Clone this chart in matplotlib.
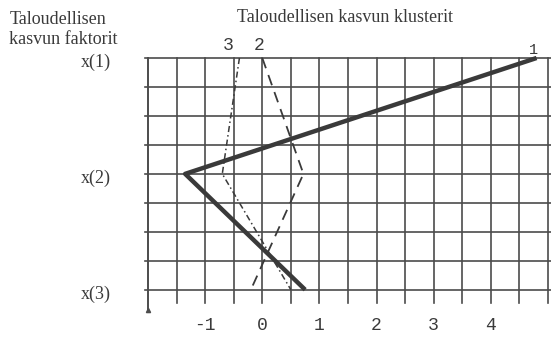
import matplotlib
matplotlib.use("Agg")
import matplotlib.pyplot as plt
import numpy as np

# factor rows (top to bottom) and cluster profiles
factors = ['x(1)', 'x(2)', 'x(3)']
factor_pos = [8, 4, 0]
cluster1 = [4.8, -1.35, 0.75]
cluster2 = [0.0, 0.72, -0.2]
cluster3 = [-0.4, -0.7, 0.5]
xtick_vals = [-1, 0, 1, 2, 3, 4]

ink = '#3a3a3a'
grid_c = '#4c4c4c'
serif = ['Liberation Serif', 'DejaVu Serif']
mono = ['Liberation Mono', 'DejaVu Sans Mono']

fig = plt.figure(figsize=(5.51, 3.38), dpi=100)
ax = fig.add_axes([148/551, 1-310/338, 400/551, 252/338])
ax.set_xlim(-2, 5)
ax.set_ylim(-0.7, 8)
ax.axis('off')

# grid: vertical lines every 0.5, horizontal every cell
for gx in np.arange(-1.5, 5.01, 0.5):
    ax.plot([gx, gx], [-0.45, 8], color=grid_c, lw=1.2, clip_on=False, zorder=1)
for gy in range(0, 9):
    ax.plot([-2.05, 5.1], [gy, gy], color=grid_c, lw=1.2, clip_on=False, zorder=1)
# left axis
ax.plot([-2, -2], [-0.7, 8], color=grid_c, lw=1.4, clip_on=False, zorder=1)
ax.plot([-2], [-0.7], marker='^', ms=3, color=grid_c, clip_on=False)

# cluster profiles
ax.plot(cluster1, factor_pos, color=ink, lw=3.2, solid_capstyle='butt', zorder=3, clip_on=False)
ax.plot(cluster2, factor_pos, color=ink, lw=1.3, dashes=(6, 4), zorder=2, clip_on=False)
ax.plot(cluster3, factor_pos, color=ink, lw=1.1, dashes=(4, 2, 1, 2), zorder=2, clip_on=False)

# cluster numbers
ax.text(cluster1[0] - 0.05, 8.05, '1', family=mono, fontsize=11, color=ink, ha='center', va='bottom')
ax.text(cluster3[0] - 0.2, 8.15, '3', family=mono, fontsize=13, color=ink, ha='center', va='bottom')
ax.text(cluster2[0] - 0.05, 8.15, '2', family=mono, fontsize=13, color=ink, ha='center', va='bottom')

# x tick labels
for v in xtick_vals:
    ax.text(v, -1.25, str(v), family=mono, fontsize=13, color=ink, ha='center', va='center')

# factor labels
for name, p in zip(factors, factor_pos):
    fig.text(111/551, 1 - (62 + (8 - p) * 29) / 338, name, family=serif, fontsize=13,
             color=ink, ha='right', va='center')

fig.text(10/551, 1 - 20/338, 'Taloudellisen', family=serif, fontsize=13, color=ink, ha='left', va='center')
fig.text(9/551, 1 - 39/338, 'kasvun faktorit', family=serif, fontsize=13, color=ink, ha='left', va='center')
fig.text(345/551, 1 - 18/338, 'Taloudellisen kasvun klusterit', family=serif, fontsize=13,
         color=ink, ha='center', va='center')

fig.savefig('out.png', dpi=100, facecolor='white')
